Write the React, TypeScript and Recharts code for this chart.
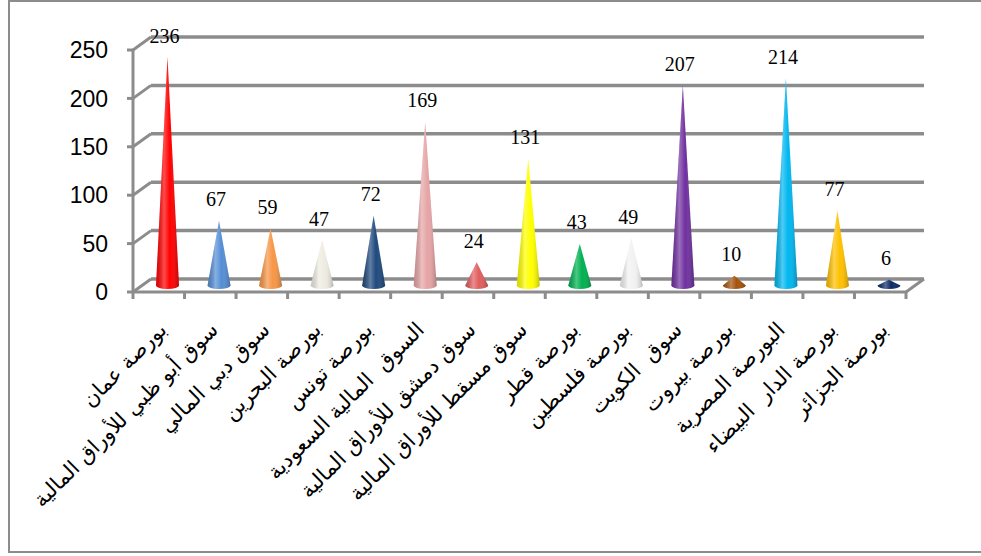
import React from "react"
import {BarChart, Bar, Cell, XAxis, YAxis, CartesianGrid, LabelList} from 'recharts';

const markets = ['بورصة عمان', 'سوق أبو ظبي للأوراق المالية', 'سوق دبي المالي', 'بورصة البحرين',
    'بورصة تونس', 'السوق  المالية السعودية', 'سوق دمشق للأوراق المالية', 'سوق مسقط للأوراق المالية',
    'بورصة قطر', 'بورصة فلسطين', 'سوق  الكويت', 'بورصة بيروت', 'البورصة المصرية',
    'بورصة الدار  البيضاء', 'بورصة الجزائر'];
const counts = [236, 67, 59, 47, 72, 169, 24, 131, 43, 49, 207, 10, 214, 77, 6];
const coneColors = ['#ff0000', '#558ed5', '#f79646', '#eeece1', '#1f497d', '#e6a4a6', '#e05d5d',
    '#ffff00', '#00b050', '#f2f2f2', '#7030a0', '#a5520b', '#00b6f0', '#ffc000', '#0c2a66'];
const yTicks = [0, 50, 100, 150, 200, 250];

const data = markets.map((name, i) => ({name, count: counts[i]}));

// layout of the fake 3d box
const GRAY = '#8c8c8c';
const DX = 18, DY = -13;   // front -> back wall offset
const BAND = 773 / 15;
const PLOT_BOTTOM = 292;

const Cone = (props: any) => {
    const {x, y, width, height, fill, index} = props;
    const cx = x + width / 2 + DX / 2;
    const base = y + height + DY / 2;
    const tip = y + DY / 2;
    const r = width / 2;
    const d = `M${cx - r},${base} L${cx},${tip} L${cx + r},${base} A${r},3.5 0 0 1 ${cx - r},${base} Z`;
    const id = `shade${index}`;
    return (
        <g>
            <defs>
                <linearGradient id={id} x1="0" y1="0" x2="1" y2="0">
                    <stop offset="0%" stopColor="#000" stopOpacity={0.15}/>
                    <stop offset="35%" stopColor="#fff" stopOpacity={0.3}/>
                    <stop offset="60%" stopColor="#fff" stopOpacity={0}/>
                    <stop offset="100%" stopColor="#000" stopOpacity={0.25}/>
                </linearGradient>
            </defs>
            <path d={d} fill={fill}/>
            <path d={d} fill={`url(#${id})`}/>
        </g>
    );
};

const gridLine = (props: any) => {
    const {x1, y1, x2} = props;
    return (
        <g key={`g${y1}`}>
            <line x1={x1 + DX} y1={y1 + DY} x2={x2 + DX} y2={y1 + DY} stroke={GRAY} strokeWidth={3.5}/>
            <line x1={x1} y1={y1} x2={x1 + DX} y2={y1 + DY} stroke={GRAY} strokeWidth={3}/>
            {Math.abs(y1 - PLOT_BOTTOM) < 1 &&
                <line x1={x2} y1={y1} x2={x2 + DX} y2={y1 + DY} stroke={GRAY} strokeWidth={3}/>}
        </g>
    );
};

const MarketTick = (props: any) => {
    const {x, index, payload} = props;
    return (
        <g>
            <line x1={x - BAND / 2} y1={PLOT_BOTTOM} x2={x - BAND / 2} y2={PLOT_BOTTOM + 7} stroke={GRAY} strokeWidth={3}/>
            {index === markets.length - 1 &&
                <line x1={x + BAND / 2} y1={PLOT_BOTTOM} x2={x + BAND / 2} y2={PLOT_BOTTOM + 7} stroke={GRAY} strokeWidth={3}/>}
            <text transform={`translate(${x + 9},${PLOT_BOTTOM + 39}) rotate(-45)`} textAnchor="end"
                  fontFamily="'DejaVu Sans'" fontSize={21} fill="#000" style={{whiteSpace: 'pre'}}>
                {payload.value}
            </text>
        </g>
    );
};

const valueLabel = (props: any) => {
    const {x, y, width, value} = props;
    return (
        <text x={Number(x) + Number(width) / 2 + 6} y={Number(y) - 21} textAnchor="middle"
              fontFamily="'Liberation Serif'" fontSize={20} fill="#000">{value}</text>
    );
};

const App = () => {
    return (
        <div style={{position: 'absolute', left: 0, top: 0, width: 981, height: 556, overflow: 'hidden', background: '#fff'}}>
            <div style={{position: 'absolute', left: 8, top: 0, width: 1100, height: 553, boxSizing: 'border-box',
                border: `2.5px solid ${GRAY}`}}/>
            <BarChart width={981} height={556} data={data} barSize={23}
                      margin={{top: 50, right: 75, bottom: 234, left: 73}}>
                <CartesianGrid vertical={false} horizontal={gridLine}/>
                <XAxis dataKey="name" interval={0} height={30} tickLine={false}
                       axisLine={{stroke: GRAY, strokeWidth: 3}} tick={<MarketTick/>}/>
                <YAxis width={60} domain={[0, 250]} ticks={yTicks} interval={0} tickSize={6} tickMargin={19}
                       axisLine={{stroke: GRAY, strokeWidth: 3}} tickLine={{stroke: GRAY, strokeWidth: 3}}
                       tick={{fill: '#000', fontSize: 23, fontFamily: "'Liberation Sans'"}}/>
                <Bar dataKey="count" shape={<Cone/>} isAnimationActive={false}>
                    {counts.map((_, i) => <Cell key={i} fill={coneColors[i]}/>)}
                    <LabelList dataKey="count" content={valueLabel}/>
                </Bar>
            </BarChart>
        </div>
    );
};

export default App;
